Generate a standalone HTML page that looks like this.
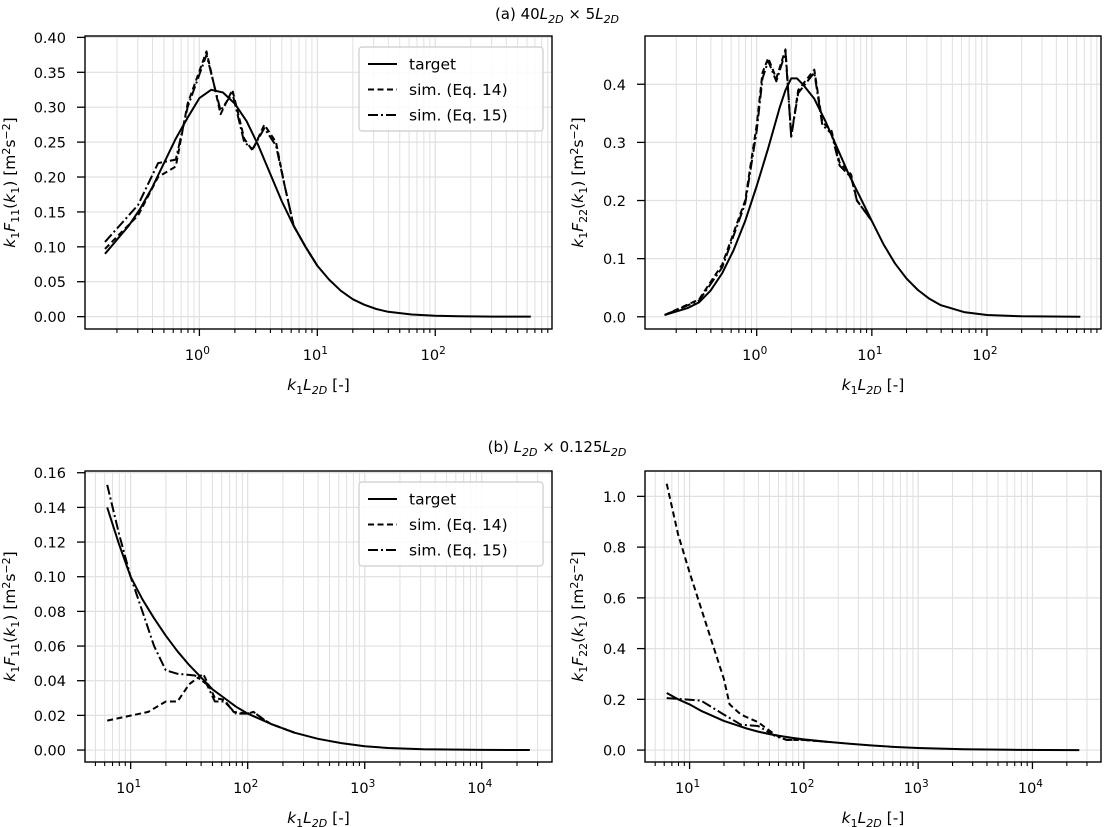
<!DOCTYPE html>
<html><head><meta charset="utf-8"><style>
body{margin:0;background:#fff}
svg{display:block;font-family:"DejaVu Sans","Liberation Sans",sans-serif}
</style></head><body>
<svg id="fig" width="1114" height="827" viewBox="0 0 1114 827" xmlns="http://www.w3.org/2000/svg">
<text x="557" y="19" font-size="15" text-anchor="middle">(a) 40<tspan font-style="italic">L</tspan><tspan font-size="11" dy="4" font-style="italic">2D</tspan><tspan dy="-4"> × 5</tspan><tspan font-style="italic">L</tspan><tspan font-size="11" dy="4" font-style="italic">2D</tspan></text>
<text x="557" y="452" font-size="15" text-anchor="middle">(b) <tspan font-style="italic">L</tspan><tspan font-size="11" dy="4" font-style="italic">2D</tspan><tspan dy="-4"> × 0.125</tspan><tspan font-style="italic">L</tspan><tspan font-size="11" dy="4" font-style="italic">2D</tspan></text>
</svg>
<script>
// ---- data (x values are log10(k1 L2D)) ----
const a1TargetX=[-0.8,-0.7,-0.6,-0.5,-0.4,-0.3,-0.2,-0.1,0,0.1,0.2,0.3,0.4,0.5,0.6,0.7,0.8,0.9,1.0,1.1,1.2,1.3,1.4,1.5,1.6,1.8,2.0,2.2,2.5,2.81];
const a1TargetY=[0.09,0.11,0.13,0.155,0.185,0.22,0.255,0.285,0.313,0.325,0.321,0.305,0.28,0.245,0.205,0.165,0.13,0.1,0.073,0.053,0.037,0.025,0.017,0.011,0.007,0.003,0.0012,0.0005,0.0001,0];
const a1Eq14X=[-0.8,-0.52,-0.35,-0.2,-0.1,0.06,0.18,0.28,0.38,0.45,0.55,0.65,0.72,0.8,0.9,1.0];
const a1Eq14Y=[0.097,0.145,0.2,0.215,0.305,0.38,0.29,0.325,0.255,0.238,0.275,0.25,0.19,0.13,0.1,0.073];
const a1Eq15X=[-0.8,-0.52,-0.35,-0.2,-0.1,0.06,0.18,0.28,0.38,0.45,0.55,0.65,0.72,0.8,0.9,1.0];
const a1Eq15Y=[0.107,0.16,0.22,0.225,0.3,0.375,0.295,0.32,0.25,0.24,0.27,0.245,0.19,0.13,0.1,0.073];

const a2TargetX=[-0.8,-0.6,-0.5,-0.4,-0.3,-0.2,-0.1,0,0.1,0.2,0.25,0.3,0.35,0.4,0.5,0.6,0.7,0.8,0.9,1.0,1.1,1.2,1.3,1.4,1.5,1.6,1.8,2.0,2.3,2.81];
const a2TargetY=[0.003,0.015,0.025,0.045,0.075,0.115,0.165,0.225,0.29,0.36,0.39,0.41,0.41,0.4,0.375,0.335,0.29,0.245,0.205,0.165,0.125,0.092,0.066,0.046,0.031,0.02,0.008,0.003,0.0008,0];
const a2Eq14X=[-0.8,-0.5,-0.3,-0.1,0.0,0.05,0.1,0.17,0.25,0.3,0.36,0.5,0.57,0.65,0.72,0.82,0.87,1.0];
const a2Eq14Y=[0.003,0.03,0.09,0.2,0.33,0.42,0.445,0.41,0.46,0.31,0.39,0.425,0.335,0.32,0.265,0.245,0.2,0.165];
const a2Eq15X=[-0.8,-0.5,-0.3,-0.1,0.0,0.05,0.1,0.17,0.25,0.3,0.36,0.5,0.57,0.65,0.72,0.82,0.87,1.0];
const a2Eq15Y=[0.003,0.028,0.085,0.195,0.32,0.41,0.44,0.405,0.455,0.31,0.385,0.42,0.33,0.315,0.26,0.24,0.2,0.165];

const b1TargetX=[0.8,0.9,1.0,1.1,1.2,1.3,1.4,1.5,1.6,1.7,1.8,1.9,2.0,2.2,2.4,2.6,2.8,3.0,3.2,3.5,4.0,4.41];
const b1TargetY=[0.14,0.119,0.1,0.087,0.076,0.066,0.057,0.049,0.042,0.035,0.03,0.025,0.021,0.015,0.01,0.0065,0.004,0.0022,0.0012,0.0005,0.0001,0];
const b1Eq14X=[0.8,1.15,1.3,1.4,1.5,1.62,1.72,1.8,1.88,2.0,2.05,2.15,2.2,2.4];
const b1Eq14Y=[0.017,0.022,0.028,0.028,0.038,0.044,0.03,0.029,0.022,0.021,0.022,0.017,0.015,0.01];
const b1Eq15X=[0.8,0.9,1.0,1.1,1.2,1.3,1.4,1.55,1.65,1.72,1.8,1.9,2.0,2.05,2.15,2.2,2.4];
const b1Eq15Y=[0.153,0.125,0.1,0.08,0.06,0.046,0.044,0.043,0.038,0.028,0.028,0.021,0.021,0.022,0.017,0.015,0.01];

const b2TargetX=[0.8,0.9,1.0,1.1,1.2,1.3,1.4,1.5,1.6,1.7,1.8,1.9,2.0,2.2,2.4,2.6,2.8,3.0,3.4,3.8,4.41];
const b2TargetY=[0.225,0.2,0.18,0.155,0.135,0.115,0.1,0.085,0.073,0.063,0.055,0.048,0.042,0.033,0.025,0.018,0.012,0.008,0.003,0.001,0];
const b2Eq14X=[0.8,0.9,1.0,1.1,1.2,1.3,1.35,1.45,1.6,1.75,1.85,2.0,2.1,2.2];
const b2Eq14Y=[1.05,0.85,0.7,0.56,0.42,0.28,0.18,0.14,0.11,0.06,0.04,0.04,0.036,0.033];
const b2Eq15X=[0.8,0.95,1.1,1.3,1.45,1.6,1.75,1.85,2.0,2.1,2.2];
const b2Eq15Y=[0.205,0.2,0.195,0.14,0.1,0.095,0.055,0.04,0.04,0.036,0.033];

const a1Ticks=["0.00","0.05","0.10","0.15","0.20","0.25","0.30","0.35","0.40"];
const a2Ticks=["0.0","0.1","0.2","0.3","0.4"];
const b1Ticks=["0.00","0.02","0.04","0.06","0.08","0.10","0.12","0.14","0.16"];
const b2Ticks=["0.0","0.2","0.4","0.6","0.8","1.0"];
const aDecades=[0,1,2];
const bDecades=[1,2,3,4];

const NS="http://www.w3.org/2000/svg";
const svg=document.getElementById('fig');
function mk(tag,attrs,parent){const e=document.createElementNS(NS,tag);for(const k in attrs)e.setAttribute(k,attrs[k]);(parent||svg).appendChild(e);return e;}

function panel(p){
  const g=mk('g',{});
  
  
  const sx=v=>p.L+(v-p.x0)/(p.x1-p.x0)*(p.R-p.L);
  const sy=v=>p.B-(v-p.y0)/(p.y1-p.y0)*(p.B-p.T);
  for(let d=Math.floor(p.x0);d<=Math.ceil(p.x1);d++){
    for(let m=1;m<10;m++){
      const lx=d+Math.log10(m); if(lx<p.x0||lx>p.x1) continue;
      const X=sx(lx);
      const gl=mk('line',{x1:X,x2:X,y1:p.T,y2:p.B,stroke:'#e0e0e0','stroke-width':m===1?1.2:1},g);
      
      
      mk('line',{x1:X,x2:X,y1:p.B,y2:p.B+(m===1?7:4),stroke:'#000','stroke-width':m===1?1.3:1.1},g);
    }
  }
  p.yt.forEach(t=>{const Y=sy(parseFloat(t));
    const gl=mk('line',{x1:p.L,x2:p.R,y1:Y,y2:Y,stroke:'#e0e0e0','stroke-width':1.2},g);
    
    
    mk('line',{x1:p.L-8,x2:p.L,y1:Y,y2:Y,stroke:'#000','stroke-width':1.3},g);
    const tx=mk('text',{x:p.L-19,y:Y+5.5,'font-size':14.5,'text-anchor':'end'},g);
    tx.textContent=t;
    
    
  });
  p.dec.forEach(d=>{const X=sx(d);
    const tx=mk('text',{x:X-2,y:p.B+31,'font-size':14.5,'text-anchor':'middle'},g);
    tx.innerHTML='10<tspan font-size="10.5" dy="-6">'+d+'</tspan>';
    
    
  });
  const series=[[p.t,'target',''],[p.e14,'sim-eq14','6,3.5'],[p.e15,'sim-eq15','10,3,2,3']];
  series.forEach(([s,nm,da])=>{
    const pts=s[0].map((x,i)=>sx(x).toFixed(1)+','+sy(s[1][i]).toFixed(1)).join(' ');
    const pl=mk('polyline',{points:pts,fill:'none',stroke:'#000','stroke-width':2,'stroke-dasharray':da,'stroke-linejoin':'round'},g);
    
    
  });
  const fr=mk('rect',{x:p.L,y:p.T,width:p.R-p.L,height:p.B-p.T,fill:'none',stroke:'#000','stroke-width':1.4},g);
  
  
  const xl=mk('text',{x:(p.L+p.R)/2,y:p.B+61,'font-size':15.5,'text-anchor':'middle'},g);
  xl.innerHTML='<tspan font-style="italic">k</tspan><tspan font-size="11" dy="4">1</tspan><tspan font-style="italic" dy="-4">L</tspan><tspan font-size="11" dy="4" font-style="italic">2D</tspan><tspan dy="-4"> [-]</tspan>';
  
  
  const cy=(p.T+p.B)/2;
  const yl=mk('text',{x:0,y:0,'font-size':15.5,'text-anchor':'middle',transform:`translate(${p.ylx},${cy}) rotate(-90)`},g);
  yl.innerHTML='<tspan font-style="italic">k</tspan><tspan font-size="11" dy="4">1</tspan><tspan font-style="italic" dy="-4">F</tspan><tspan font-size="11" dy="4">'+p.f+'</tspan><tspan dy="-4">(</tspan><tspan font-style="italic">k</tspan><tspan font-size="11" dy="4">1</tspan><tspan dy="-4">) [m</tspan><tspan font-size="11" dy="-5">2</tspan><tspan dy="5">s</tspan><tspan font-size="11" dy="-5">−2</tspan><tspan dy="5">]</tspan>';
  
  
  if(p.legend){
    const lg=mk('g',{},g);
    
    
    const lx=p.R-193, ly=p.T+11;
    mk('rect',{x:lx,y:ly,width:184,height:84,rx:3,fill:'#fff','fill-opacity':0.85,stroke:'#ccc','stroke-width':1.2},lg);
    const labels=['target','sim. (Eq. 14)','sim. (Eq. 15)'];
    const das=['','6,3.5','10,3,2,3'];
    labels.forEach((l,i)=>{const Y=ly+17+i*25.5;
      mk('line',{x1:lx+9,x2:lx+38,y1:Y,y2:Y,stroke:'#000','stroke-width':2,'stroke-dasharray':das[i]},lg);
      const t=mk('text',{x:lx+50,y:Y+5.5,'font-size':15.5},lg); t.textContent=l;
      
      
    });
  }
}
const ax0=-0.97,ax1=2.99,bx0=0.61,bx1=4.6;
panel({name:'panel-a-f11',L:85,R:552,T:36,B:329,x0:ax0,x1:ax1,y0:-0.0177,y1:0.402,yt:a1Ticks,dec:aDecades,t:[a1TargetX,a1TargetY],e14:[a1Eq14X,a1Eq14Y],e15:[a1Eq15X,a1Eq15Y],legend:true,ylx:15,f:'11'});
panel({name:'panel-a-f22',L:645,R:1101,T:36,B:329,x0:ax0,x1:ax1,y0:-0.021,y1:0.483,yt:a2Ticks,dec:aDecades,t:[a2TargetX,a2TargetY],e14:[a2Eq14X,a2Eq14Y],e15:[a2Eq15X,a2Eq15Y],legend:false,ylx:583,f:'22'});
panel({name:'panel-b-f11',L:85,R:552,T:471,B:762,x0:bx0,x1:bx1,y0:-0.0069,y1:0.161,yt:b1Ticks,dec:bDecades,t:[b1TargetX,b1TargetY],e14:[b1Eq14X,b1Eq14Y],e15:[b1Eq15X,b1Eq15Y],legend:true,ylx:15,f:'11'});
panel({name:'panel-b-f22',L:645,R:1101,T:471,B:762,x0:bx0,x1:bx1,y0:-0.047,y1:1.10,yt:b2Ticks,dec:bDecades,t:[b2TargetX,b2TargetY],e14:[b2Eq14X,b2Eq14Y],e15:[b2Eq15X,b2Eq15Y],legend:false,ylx:583,f:'22'});
</script>
</body></html>
